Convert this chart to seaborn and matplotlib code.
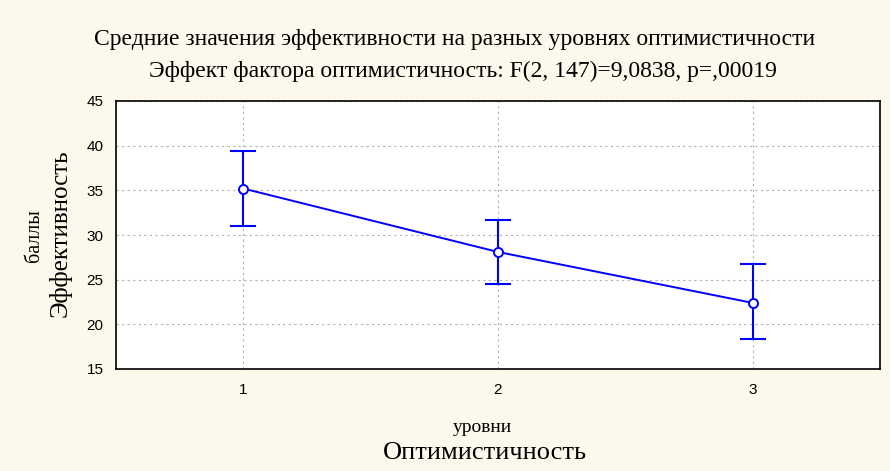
import matplotlib
matplotlib.use('Agg')
import matplotlib.pyplot as plt
import seaborn as sns
import pandas as pd
import numpy as np

# Data
levels = [1, 2, 3]
means = [35.2, 28.1, 22.4]
upper = [39.4, 31.7, 26.7]
lower = [31.0, 24.5, 18.4]
y_ticks = [15, 20, 25, 30, 35, 40, 45]

title_1 = 'Средние значения эффективности на разных уровнях оптимистичности'
title_2 = 'Эффект фактора оптимистичность: F(2, 147)=9,0838, p=,00019'

df = pd.DataFrame({'level': levels, 'mean': means, 'upper': upper, 'lower': lower})

sns.set_style('white')
plt.rcParams['font.family'] = ['Liberation Sans', 'DejaVu Sans']
plt.rcParams['text.color'] = 'black'

bg = '#fdf8ec'
blue = '#0000ff'
serif = ['Liberation Serif', 'DejaVu Serif']

fig = plt.figure(figsize=(8.9, 4.71), dpi=100, facecolor=bg)
ax = fig.add_axes([116 / 890, 1 - 369 / 471, (880 - 116) / 890, (369 - 101) / 471])
ax.set_facecolor('white')

yerr = np.array([df['mean'] - df['lower'], df['upper'] - df['mean']])
ax.errorbar(df['level'], df['mean'], yerr=yerr, fmt='none', ecolor=blue,
            elinewidth=1.5, capsize=9.5, capthick=1.5, zorder=3)
sns.lineplot(data=df, x='level', y='mean', ax=ax, color=blue, linewidth=1.4,
             marker='o', markersize=6.5, markerfacecolor='white',
             markeredgecolor=blue, markeredgewidth=1.4, zorder=4)

ax.set_xlim(0.5, 3.5)
ax.set_ylim(15, 45)
ax.set_xticks(levels)
ax.set_yticks(y_ticks)
ax.tick_params(labelsize=11, length=3, width=1, color='black', labelcolor='black',
               direction='in')
ax.tick_params(axis='x', pad=10)
ax.tick_params(axis='y', pad=9)
ax.grid(True, color='#b0b0b0', linestyle=(0, (2, 3)), linewidth=0.8)
for s in ax.spines.values():
    s.set_color('black')
    s.set_linewidth(1.2)

ax.set_xlabel('')
ax.set_ylabel('')

fig.text(455 / 890, 1 - 40 / 471, title_1, ha='center', va='center', fontsize=17, family=serif)
fig.text(463 / 890, 1 - 71 / 471, title_2, ha='center', va='center', fontsize=17, family=serif)

fig.text(482 / 890, 1 - 427 / 471, 'уровни', ha='center', va='center', fontsize=14, family=serif)
fig.text(485 / 890, 1 - 453 / 471, 'Оптимистичность', ha='center', va='center', fontsize=19, family=serif)

fig.text(34 / 890, 1 - 236 / 471, 'баллы', ha='center', va='center', rotation=90, fontsize=14.5, family=serif)
fig.text(60 / 890, 1 - 233 / 471, 'Эффективность', ha='center', va='center', rotation=90, fontsize=18, family=serif)

fig.savefig('out.png', dpi=100, facecolor=bg)
